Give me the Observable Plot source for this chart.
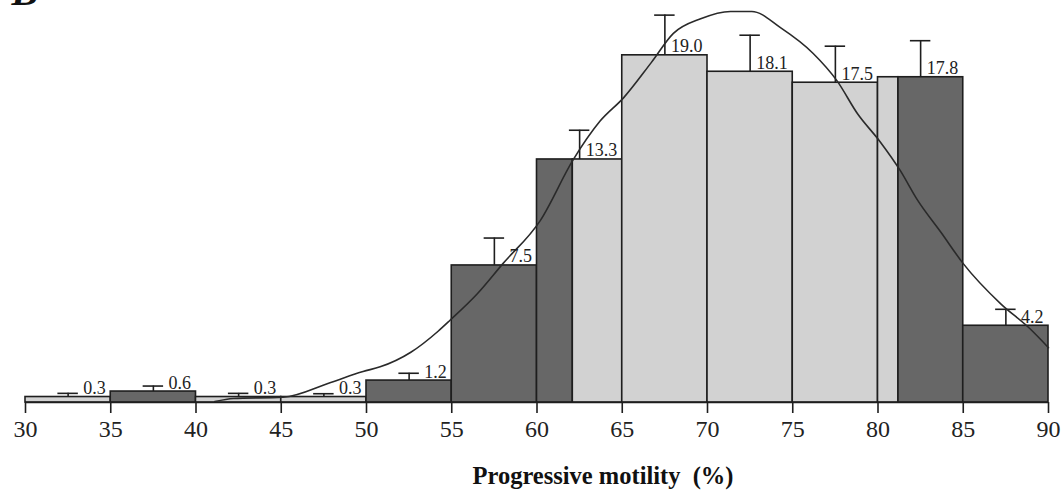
<!DOCTYPE html>
<html>
<head>
<meta charset="utf-8">
<script src="https://cdn.jsdelivr.net/npm/d3@7"></script>
<script src="https://cdn.jsdelivr.net/npm/@observablehq/plot@0.6"></script>
<style>
  html, body { margin: 0; padding: 0; background: #fff; overflow: hidden; }
  #chart svg { display: block; }
</style>
</head>
<body>
<div id="chart"></div>
<script>
// ---- data ----
const panelLabel = "B";
const axisTitle = "Progressive motility  (%)";
const xTicks = [30, 35, 40, 45, 50, 55, 60, 65, 70, 75, 80, 85, 90];

// 5-point bins: value, upper end of the error bar
const binStart = [30, 35, 40, 45, 50, 55, 60, 65, 70, 75, 80, 85];
const binEnd   = [35, 40, 45, 50, 55, 60, 65, 70, 75, 80, 85, 90];
const binValue = [0.3, 0.6, 0.3, 0.3, 1.2, 7.5, 13.3, 19.0, 18.1, 17.5, 17.8, 4.2];
const binErrTop = [0.5, 0.9, 0.5, 0.48, 1.6, 9.0, 14.9, 21.2, 20.1, 19.5, 19.8, 5.1];

// bar segments (the reference shades the 62.1–81.2 reference range light)
const segStart = [30, 35, 40, 45, 50, 55, 60, 62.1, 65, 70, 75, 80, 81.2, 85];
const segEnd   = [35, 40, 45, 50, 55, 60, 62.1, 65, 70, 75, 80, 81.2, 85, 90];
const segValue = [0.3, 0.6, 0.3, 0.3, 1.2, 7.5, 13.3, 13.3, 19.0, 18.1, 17.5, 17.8, 17.8, 4.2];
const segTone  = ["light", "dark", "light", "light", "dark", "dark", "dark", "light", "light", "light", "light", "light", "dark", "dark"];

// fitted curve
const curveX = [41.1, 42.2, 45.1, 47.9, 49.8, 50.8, 52.6, 54.2, 54.9, 56.5, 58.0, 60.2, 62.1, 63.7, 65.1, 66.7, 68.0, 69.6, 71.35, 72.6, 74.3, 76.2, 77.6, 78.8, 80.1, 81.3, 82.3, 83.7, 85.0, 87.2, 88.9, 90];
const curveY = [0.05, 0.22, 0.29, 1.1, 1.7, 1.95, 2.75, 3.9, 4.5, 5.95, 7.6, 9.97, 13.25, 15.4, 16.7, 18.6, 20.2, 21.0, 21.4, 21.4, 20.5, 19.1, 17.6, 15.8, 14.3, 12.7, 11.1, 9.3, 7.6, 5.4, 4.05, 3.0];

// ---- tables built from the arrays ----
const bins = binStart.map((s, i) => ({x1: s, x2: binEnd[i], mid: (s + binEnd[i]) / 2, v: binValue[i], e: binErrTop[i], label: binValue[i].toFixed(1)}));
const segs = segStart.map((s, i) => ({x1: s, x2: segEnd[i], v: segValue[i], tone: segTone[i]}));
const curve = curveX.map((x, i) => ({x, y: curveY[i]}));

const serif = "'Liberation Serif', 'Times New Roman', serif";
const capHalf = 0.6;

const chart = Plot.plot({
  width: 1063,
  height: 493,
  marginLeft: 25,
  marginRight: 15,
  marginTop: 0,
  marginBottom: 91,
  style: {fontFamily: serif, background: "#fff", color: "#111", overflow: "visible"},
  x: {domain: [30, 90]},
  y: {domain: [0, 22]},
  color: {domain: ["dark", "light"], range: ["#676767", "#d2d2d2"]},
  marks: [
    Plot.rectY(segs, {x1: "x1", x2: "x2", y1: 0, y2: "v", fill: "tone", stroke: "#1e1e1e", strokeWidth: 1.6}),
    // error bars
    Plot.ruleX(bins, {x: "mid", y1: "v", y2: "e", stroke: "#1e1e1e", strokeWidth: 1.6}),
    Plot.ruleY(bins, {y: "e", x1: d => d.mid - capHalf, x2: d => d.mid + capHalf, stroke: "#1e1e1e", strokeWidth: 1.6}),
    // fitted curve
    Plot.line(curve, {x: "x", y: "y", curve: "monotone-x", stroke: "#2a2a2a", strokeWidth: 1.6}),
    // value labels
    Plot.text(bins, {x: "x2", y: "v", text: "label", textAnchor: "end", lineAnchor: "bottom", dx: -5, dy: -3, fontSize: 18, fill: "#222"}),
    // baseline
    Plot.ruleY([0], {stroke: "#1e1e1e", strokeWidth: 1.6}),
    Plot.axisX({ticks: xTicks, tickSize: 11, tickPadding: 6, tickFormat: d => String(d), fontSize: 24, label: null, stroke: "#1e1e1e", strokeWidth: 1.6, color: "#222"}),
    Plot.axisY({ticks: [], label: null, tickSize: 0}),
    // axis title
    Plot.text([axisTitle], {frameAnchor: "bottom", dx: 66, dy: 81, lineAnchor: "bottom", text: d => d, fontSize: 24.5, fontWeight: "bold", fill: "#111"}),
    // panel letter (cut off at the top edge in the reference)
    Plot.text([panelLabel], {frameAnchor: "top-left", dx: -14, dy: 4, text: d => d, textAnchor: "start", lineAnchor: "bottom", fontSize: 40, fontWeight: "bold", fontStyle: "italic", fill: "#111"})
  ]
});
document.getElementById("chart").appendChild(chart);
</script>
</body>
</html>
